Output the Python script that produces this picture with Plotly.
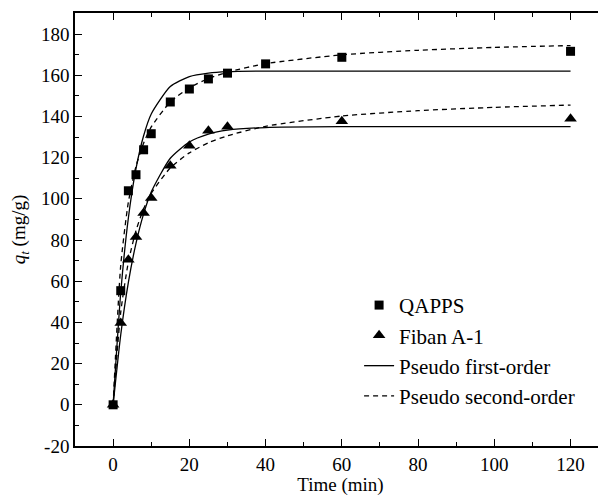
import plotly.graph_objects as go

# Experimental data
t_qapps = [0, 2, 4, 6, 8, 10, 15, 20, 25, 30, 40, 60, 120]
q_qapps = [0, 55.4, 103.9, 111.7, 123.8, 131.6, 147.0, 153.3, 158.2, 161.0, 165.5, 168.7, 171.6]

t_fiban = [0, 2, 4, 6, 8, 10, 15, 20, 25, 30, 60, 120]
q_fiban = [0, 39.7, 70.4, 81.4, 93.1, 100.4, 116.1, 125.8, 133.0, 135.0, 137.6, 138.9]

# Fitted curves
t_fit = [0, 2, 4, 6, 8, 10, 15, 20, 25, 30, 40, 60, 80, 100, 120]
pfo_qapps = [0, 54.5, 90.7, 114.6, 130.6, 141.2, 154.5, 159.3, 161.0, 161.7, 162.0, 162.0, 162.0, 162.0, 162.0]
pso_qapps = [0, 67.8, 98.4, 115.8, 127.0, 134.9, 147.0, 153.9, 158.4, 161.5, 165.6, 169.9, 172.1, 173.5, 174.4]
pfo_fiban = [0, 34.0, 59.4, 78.4, 92.7, 103.3, 119.7, 127.6, 131.4, 133.3, 134.6, 135.0, 135.0, 135.0, 135.0]
pso_fiban = [0, 45.0, 69.3, 84.6, 95.1, 102.7, 115.0, 122.3, 127.2, 130.6, 135.2, 140.2, 142.8, 144.4, 145.5]

x_ticks = [0, 20, 40, 60, 80, 100, 120]
x_ticktext = ["0", "20", "40", "60", "80", "100", "120"]
y_ticks = [-20, 0, 20, 40, 60, 80, 100, 120, 140, 160, 180]
y_ticktext = ["-20", "0", "20", "40", "60", "80", "100", "120", "140", "160", "180"]

FONT = "Liberation Serif"

fig = go.Figure()
fig.add_trace(go.Scatter(x=t_qapps, y=q_qapps, mode="markers", name="QAPPS",
                         marker=dict(symbol="square", size=9, color="black")))
fig.add_trace(go.Scatter(x=t_fiban, y=q_fiban, mode="markers", name="Fiban A-1",
                         marker=dict(symbol="triangle-up", size=11, color="black")))
fig.add_trace(go.Scatter(x=t_fit, y=pfo_qapps, mode="lines", name="Pseudo first-order",
                         line=dict(color="black", width=1.3, shape="spline", smoothing=0.6)))
fig.add_trace(go.Scatter(x=t_fit, y=pso_qapps, mode="lines", name="Pseudo second-order",
                         line=dict(color="black", width=1.3, dash="5px,4px", shape="spline", smoothing=0.6)))
fig.add_trace(go.Scatter(x=t_fit, y=pfo_fiban, mode="lines", showlegend=False,
                         line=dict(color="black", width=1.3, shape="spline", smoothing=0.6)))
fig.add_trace(go.Scatter(x=t_fit, y=pso_fiban, mode="lines", showlegend=False,
                         line=dict(color="black", width=1.3, dash="5px,4px", shape="spline", smoothing=0.6)))

# The page body adds an 8px offset, so the figure is sized to fill the rest of the window.
fig.update_layout(
    width=598, height=488,
    margin=dict(l=67, r=0, t=5, b=50),
    paper_bgcolor="white", plot_bgcolor="white",
    font=dict(family=FONT, size=19, color="black"),
    legend=dict(x=0.535, y=0.372, xanchor="left", yanchor="top",
                bgcolor="rgba(0,0,0,0)", font=dict(size=21, family=FONT),
                traceorder="normal"),
    xaxis=dict(range=[-10, 129.3], tickvals=x_ticks, ticktext=x_ticktext,
               showline=True, linecolor="black", linewidth=1.5, mirror="ticks",
               ticks="inside", ticklen=7, tickwidth=1.3, tickcolor="black",
               minor=dict(dtick=10, ticks="inside", ticklen=4, tickwidth=1.3, tickcolor="black"),
               showgrid=False, zeroline=False,
               title=dict(text="Time (min)", font=dict(size=19, family=FONT), standoff=9)),
    yaxis=dict(range=[-20, 190.2], tickvals=y_ticks, ticktext=y_ticktext,
               showline=True, linecolor="black", linewidth=1.5, mirror=False,
               ticks="inside", ticklen=7, tickwidth=1.3, tickcolor="black",
               minor=dict(dtick=10, ticks="inside", ticklen=4, tickwidth=1.3, tickcolor="black"),
               showgrid=False, zeroline=False,
               title=dict(text="<i>q</i><sub><i>t</i></sub> (mg/g)", font=dict(size=19, family=FONT), standoff=15)),
)

fig.write_html("out.html")
